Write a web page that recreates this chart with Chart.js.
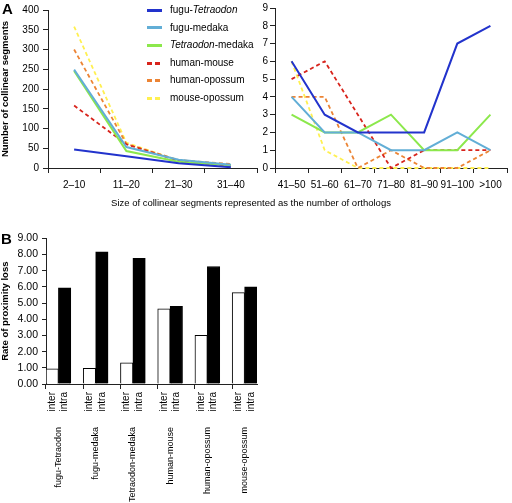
<!DOCTYPE html>
<html>
<head>
<meta charset="utf-8">
<script src="https://cdn.jsdelivr.net/npm/chart.js@4"></script>
<style>
  body { margin: 0; background: #fff; }
  #page { position: relative; width: 512px; height: 503px; overflow: hidden; font-family: 'Liberation Sans', Arial, sans-serif; color: #000; }
  canvas { position: absolute; }
  .panel { position: absolute; font-weight: bold; font-size: 15px; }
  #xtitle { position: absolute; left: 0; width: 502px; top: 197px; text-align: center; font-size: 9.5px; }
  #legend { position: absolute; left: 147px; top: 4px; font-size: 10px; }
  #legend div { height: 17.6px; line-height: 12px; white-space: nowrap; }
  #legend span.key { display: inline-block; width: 15px; height: 3px; vertical-align: middle; margin-right: 8px; }
</style>
</head>
<body>
<div id="page">
  <canvas id="smallChart" width="262" height="195" style="left:0;top:0"></canvas>
  <canvas id="largeChart" width="262" height="195" style="left:250px;top:0"></canvas>
  <canvas id="rateChart" width="270" height="275" style="left:0;top:228px"></canvas>
  <div class="panel" style="left:2px;top:0px">A</div>
  <div class="panel" style="left:1px;top:230px">B</div>
  <div id="xtitle">Size of collinear segments represented as the number of orthologs</div>
  <div id="legend"></div>
</div>
<script>
// categories
const sizeBinsSmall = ['2–10', '11–20', '21–30', '31–40'];
const sizeBinsLarge = ['41–50', '51–60', '61–70', '71–80', '81–90', '91–100', '>100'];
const pairNames = ['fugu-Tetraodon', 'fugu-medaka', 'Tetraodon-medaka', 'human-mouse', 'human-opossum', 'mouse-opossum'];

// panel A, number of collinear segments (small sizes)
const fuguTetraodonSmall = [47, 30, 12, 2];
const fuguMedakaSmall = [249, 53, 21, 8];
const tetraodonMedakaSmall = [246, 43, 16, 7];
const humanMouseSmall = [158, 60, 18, 5];
const humanOpossumSmall = [300, 61, 20, 10];
const mouseOpossumSmall = [358, 64, 19, 8];

// panel A, large sizes
const fuguTetraodonLarge = [6, 3, 2, 2, 2, 7, 8];
const fuguMedakaLarge = [4, 2, 2, 1, 1, 2, 1];
const tetraodonMedakaLarge = [3, 2, 2, 3, 1, 1, 3];
const humanMouseLarge = [5, 6, 3, 0, 1, 1, 1];
const humanOpossumLarge = [4, 4, 0, 1, 0, 0, 1];
const mouseOpossumLarge = [6, 1, 0, 0, 0, 0, 0];

// panel B, rate of proximity loss
const interRates = [0.94, 0.97, 1.30, 4.64, 3.00, 5.64];
const intraRates = [5.94, 8.16, 7.76, 4.80, 7.26, 6.00];

// tick labels
const smallTicks = [0, 50, 100, 150, 200, 250, 300, 350, 400];
const largeTicks = [0, 1, 2, 3, 4, 5, 6, 7, 8, 9];
const rateTicks = [0, 1, 2, 3, 4, 5, 6, 7, 8, 9];

const pairColors = ['#2233cc', '#62aed6', '#8ce84c', '#d8241c', '#ec8434', '#fff050'];
const pairDashed = [false, false, false, true, true, true];

Chart.defaults.font.family = "'Liberation Sans', Arial, sans-serif";
Chart.defaults.color = '#000';

function lineSets(series) {
    return series.map((values, i) => ({
        label: pairNames[i],
        data: values,
        borderColor: pairColors[i],
        borderWidth: pairDashed[i] ? 1.8 : 2,
        borderDash: pairDashed[i] ? [4, 3] : [],
        pointRadius: 0,
        tension: 0,
        clip: false,
    }));
}

function lineChart(id, labels, series, ticks, yWidth, title) {
    return new Chart(document.getElementById(id), {
        type: 'line',
        data: { labels, datasets: lineSets(series) },
        options: {
            responsive: false,
            animation: false,
            layout: { padding: { right: 5 } },
            plugins: { legend: { display: false }, tooltip: { enabled: false } },
            scales: {
                x: {
                    offset: true,
                    grid: { offset: true, drawOnChartArea: false, tickLength: 5, color: '#222' },
                    border: { color: '#222' },
                    ticks: { font: { size: 10 }, padding: 6, maxRotation: 0, autoSkip: false },
                    afterFit: (s) => { s.height = 27; },
                },
                y: {
                    min: ticks[0],
                    max: ticks[ticks.length - 1],
                    afterBuildTicks: (s) => { s.ticks = ticks.map((v) => ({ value: v })); },
                    grid: { drawOnChartArea: false, tickLength: 5, color: '#222' },
                    border: { color: '#222' },
                    ticks: { font: { size: 10 }, padding: title ? 4 : 2 },
                    title: title ? { display: true, text: title, font: { size: 9.5, weight: 'bold' }, padding: 0 } : { display: false },
                    afterFit: (s) => { s.width = yWidth; },
                },
            },
        },
    });
}

lineChart('smallChart', sizeBinsSmall,
    [fuguTetraodonSmall, fuguMedakaSmall, tetraodonMedakaSmall, humanMouseSmall, humanOpossumSmall, mouseOpossumSmall],
    smallTicks, 48, 'Number of collinear segments');

lineChart('largeChart', sizeBinsLarge,
    [fuguTetraodonLarge, fuguMedakaLarge, tetraodonMedakaLarge, humanMouseLarge, humanOpossumLarge, mouseOpossumLarge],
    largeTicks, 25, null);

// legend with italic genus names
const legend = document.getElementById('legend');
pairNames.forEach((name, i) => {
    const row = document.createElement('div');
    const key = document.createElement('span');
    key.className = 'key';
    key.style.background = pairDashed[i]
        ? `repeating-linear-gradient(to right, ${pairColors[i]} 0 5px, transparent 5px 8px)`
        : pairColors[i];
    row.appendChild(key);
    const text = document.createElement('span');
    text.innerHTML = name.replace('Tetraodon', '<i>Tetraodon</i>');
    row.appendChild(text);
    legend.appendChild(row);
});

// panel B: inter / intra slots with a blank slot between pairs
const slotLabels = [];
const interData = [];
const intraData = [];
pairNames.forEach((name, j) => {
    if (j > 0) { slotLabels.push(''); interData.push(null); intraData.push(null); }
    slotLabels.push('inter'); interData.push(interRates[j]); intraData.push(null);
    slotLabels.push('intra'); interData.push(null); intraData.push(intraRates[j]);
});

new Chart(document.getElementById('rateChart'), {
    type: 'bar',
    data: {
        labels: slotLabels,
        datasets: [
            { label: 'inter', data: interData, backgroundColor: '#fff', borderColor: '#000', borderWidth: 1 },
            { label: 'intra', data: intraData, backgroundColor: '#000', borderColor: '#000', borderWidth: 1 },
        ],
    },
    options: {
        responsive: false,
        animation: false,
        grouped: false,
        barPercentage: 1,
        categoryPercentage: 1,
        layout: { padding: { right: 13 } },
        plugins: { legend: { display: false }, tooltip: { enabled: false } },
        scales: {
            x: {
                weight: 0,
                offset: true,
                grid: {
                    offset: true, drawOnChartArea: false, tickLength: 5,
                    color: (c) => (c.index % 3 === 0 || c.index === slotLabels.length) ? '#222' : 'rgba(0,0,0,0)',
                },
                border: { color: '#222' },
                ticks: { font: { size: 10 }, padding: 3, minRotation: 90, maxRotation: 90, autoSkip: false },
                afterFit: (s) => { s.height = 38; },
            },
            groups: {
                type: 'linear',
                position: 'bottom',
                bounds: 'data',
                offset: false,
                weight: 1,
                min: -0.5,
                max: slotLabels.length - 0.5,
                afterBuildTicks: (s) => { s.ticks = pairNames.map((_, j) => ({ value: 3 * j + 0.5 })); },
                grid: { display: false, drawTicks: false, offset: false },
                border: { display: false },
                ticks: { font: { size: 9 }, padding: 5, minRotation: 90, maxRotation: 90, autoSkip: false,
                    callback: (v, i) => pairNames[i] },
                afterFit: (s) => { s.height = 81; },
            },
            y: {
                min: rateTicks[0],
                max: rateTicks[rateTicks.length - 1],
                afterBuildTicks: (s) => { s.ticks = rateTicks.map((v) => ({ value: v })); },
                grid: { drawOnChartArea: false, tickLength: 4, color: '#222' },
                border: { color: '#222' },
                ticks: { font: { size: 10.5 }, padding: 4, callback: (v) => Number(v).toFixed(2) },
                title: { display: true, text: 'Rate of proximity loss', font: { size: 9.5, weight: 'bold' }, padding: 0 },
                afterFit: (s) => { s.width = 46; },
            },
        },
    },
});
</script>
</body>
</html>
